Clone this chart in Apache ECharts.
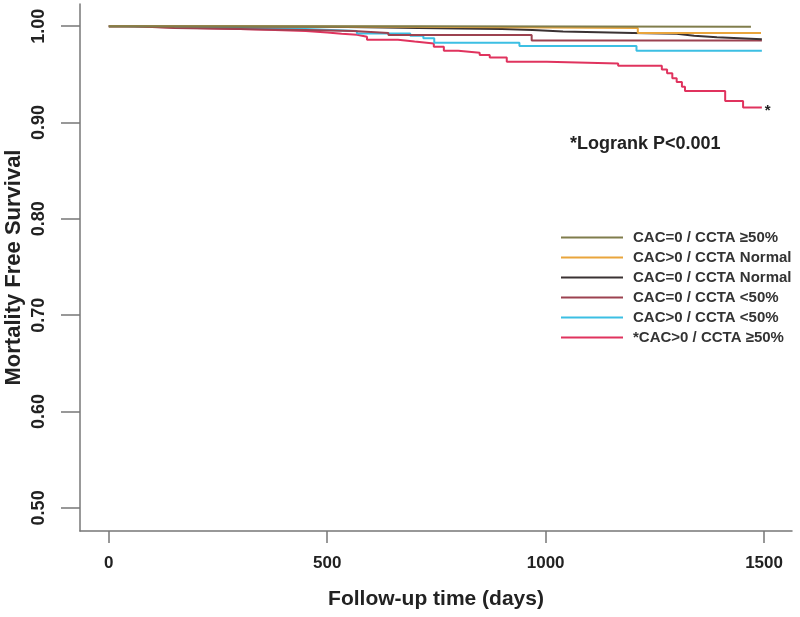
<!DOCTYPE html>
<html>
<head>
<meta charset="utf-8">
<script src="https://cdn.jsdelivr.net/npm/echarts@6/dist/echarts.min.js"></script>
<style>
html,body{margin:0;padding:0;background:#fff;}
#chart{width:800px;height:617px;}
</style>
</head>
<body>
<div id="chart"></div>
<script>
// ---- Data ----
var xTicks = [0, 500, 1000, 1500];
var yTicks = [0.5, 0.6, 0.7, 0.8, 0.9, 1.0];
var seriesNames = [
  'CAC=0 / CCTA \u226550%',
  'CAC>0 / CCTA Normal',
  'CAC=0 / CCTA Normal',
  'CAC=0 / CCTA <50%',
  'CAC>0 / CCTA <50%',
  '*CAC>0 / CCTA \u226550%'
];
var cac0_ccta50 = [[0,1.0],[700,0.9995],[1470,0.9995]];
var cacPos_normal = [[0,1.0],[300,0.9995],[700,0.998],[1211,0.993],[1493,0.993]];
var cac0_normal = [[0,1.0],[150,0.9995],[400,0.999],[545,0.998],[708,0.9975],[800,0.997],[900,0.996],[970,0.9945],[1040,0.993],[1200,0.992],[1300,0.990],[1340,0.9885],[1392,0.9865],[1495,0.9865]];
var cac0_lt50 = [[0,1.0],[60,0.998],[150,0.997],[300,0.996],[450,0.995],[560,0.993],[640,0.9907],[968,0.985],[1495,0.985]];
var cacPos_lt50 = [[0,1.0],[30,0.999],[150,0.998],[300,0.997],[450,0.995],[568,0.9925],[690,0.990],[720,0.9875],[745,0.9827],[940,0.9793],[1208,0.9744],[1495,0.9744]];
var cacPos_ge50 = [[0,1.0],[40,0.999],[110,0.998],[200,0.997],[300,0.996],[380,0.995],[451,0.9935],[500,0.992],[533,0.991],[568,0.989],[591,0.986],[662,0.984],[700,0.982],[744,0.9785],[767,0.9744],[800,0.9725],[849,0.970],[872,0.9675],[911,0.963],[1003,0.9613],[1166,0.9588],[1266,0.955],[1278,0.951],[1290,0.946],[1300,0.942],[1312,0.937],[1319,0.9326],[1411,0.9222],[1452,0.9155],[1495,0.9155]];
var seriesData = [cac0_ccta50, cacPos_normal, cac0_normal, cac0_lt50, cacPos_lt50, cacPos_ge50];
var colors = ['#807d4c', '#e9a53c', '#3a3233', '#9c4250', '#3cbfe3', '#e0335e'];
var pText = '*Logrank P<0.001';

// ---- Chart ----
var chart = echarts.init(document.getElementById('chart'));
var FONT = 'Liberation Sans, Arial, sans-serif';
var series = seriesData.map(function (d, i) {
  var s = {
    name: seriesNames[i],
    type: 'line',
    step: 'end',
    data: d,
    symbol: 'none',
    lineStyle: { color: colors[i], width: 2 },
    itemStyle: { color: colors[i] },
    z: 2 + (5 - i)
  };
  if (i === 5) {
    s.endLabel = { show: true, formatter: '*', color: '#222', fontSize: 15, fontWeight: 'bold', fontFamily: FONT, distance: 3, offset: [0, 3] };
  }
  return s;
});
chart.setOption({
  animation: false,
  backgroundColor: '#ffffff',
  color: colors,
  grid: { left: 80, right: 8, top: 4, bottom: 86, containLabel: false, outerBoundsMode: 'none' },
  legend: {
    orient: 'vertical',
    left: 556,
    top: 225,
    itemWidth: 62,
    itemHeight: 2,
    itemGap: 5,
    icon: 'rect',
    data: seriesNames,
    textStyle: { fontSize: 15, fontWeight: 'bold', color: '#333', fontFamily: FONT, padding: [0, 0, 0, 5], lineHeight: 15 }
  },
  xAxis: {
    type: 'value',
    min: -66,
    max: 1564,
    name: 'Follow-up time (days)',
    nameLocation: 'middle',
    nameGap: 58,
    nameTextStyle: { fontSize: 21, fontWeight: 'bold', color: '#222', fontFamily: FONT },
    axisLine: { show: true, onZero: false, lineStyle: { color: '#777', width: 1.5 } },
    axisTick: { show: true, inside: false, length: 12, customValues: xTicks, lineStyle: { color: '#777', width: 1.5 } },
    axisLabel: { customValues: xTicks, margin: 24, fontSize: 17, fontWeight: 'bold', color: '#222', fontFamily: FONT,
      formatter: function (v) { return String(v); } },
    splitLine: { show: false }
  },
  yAxis: {
    type: 'value',
    min: 0.476,
    max: 1.023,
    name: 'Mortality Free Survival',
    nameLocation: 'middle',
    nameGap: 55,
    nameMoveOverlap: false,
    nameTextStyle: { fontSize: 22, fontWeight: 'bold', color: '#222', fontFamily: FONT },
    axisLine: { show: true, onZero: false, lineStyle: { color: '#777', width: 1.5 } },
    axisTick: { show: true, length: 19, customValues: yTicks, lineStyle: { color: '#777', width: 1.5 } },
    axisLabel: {
      customValues: yTicks, rotate: 90, margin: 32, fontSize: 18, fontWeight: 'bold', color: '#222', fontFamily: FONT,
      formatter: function (v) { return v.toFixed(2); }
    },
    splitLine: { show: false }
  },
  graphic: [{
    type: 'text',
    left: 570,
    top: 135,
    style: { text: pText, fontSize: 18, fontWeight: 'bold', fill: '#222', fontFamily: FONT }
  }],
  series: series
});
</script>
</body>
</html>
